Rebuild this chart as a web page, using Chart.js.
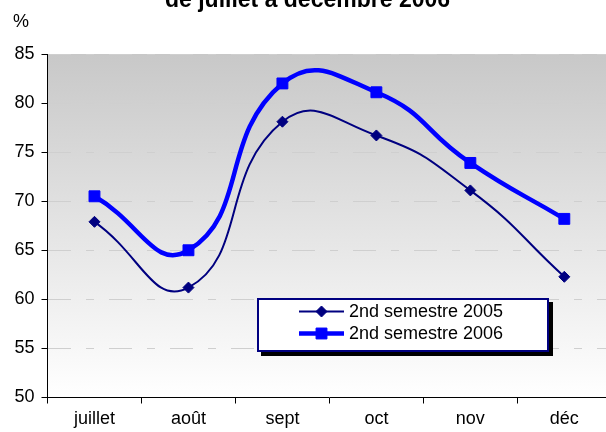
<!DOCTYPE html>
<html><head><meta charset="utf-8">
<script src="https://cdn.jsdelivr.net/npm/chart.js@4"></script>
<style>
html,body{margin:0;padding:0;overflow:hidden;background:#fff;width:606px;height:432px}
#wrap{position:relative;width:620px;height:432px}
canvas{display:block}
</style></head><body><div id="wrap"><canvas id="c" width="620" height="432" style="width:620px;height:432px"></canvas></div>
<script>
const categories = ['juillet', 'août', 'sept', 'oct', 'nov', 'déc'];
const values2005 = [67.9, 61.2, 78.1, 76.7, 71.1, 62.3];
const values2006 = [70.5, 65.0, 82.0, 81.1, 73.9, 68.2];
const seriesLabels = ['2nd semestre 2005', '2nd semestre 2006'];
const yTicks = [50, 55, 60, 65, 70, 75, 80, 85];
const titleText = 'de juillet à décembre 2006';
const unitLabel = '%';

const FONT = '"Liberation Sans", Arial, sans-serif';

const bgPlugin = {
  id: 'bg',
  beforeDraw(chart) {
    const {ctx, chartArea: a} = chart;
    const g = ctx.createLinearGradient(0, a.top, 0, a.bottom);
    g.addColorStop(0, '#c8c8c8');
    g.addColorStop(1, '#ffffff');
    ctx.save();
    ctx.fillStyle = g;
    ctx.fillRect(a.left, a.top, a.right - a.left, a.bottom - a.top);
    ctx.restore();
  }
};

function drawMarker(ctx, ds, x, y) {
  ctx.save();
  ctx.fillStyle = ds.pointBackgroundColor;
  ctx.strokeStyle = ds.pointBorderColor;
  ctx.lineWidth = ds.pointBorderWidth;
  ctx.beginPath();
  const r = ds.pointRadius;
  if (ds.pointStyle === 'rectRot') {
    ctx.moveTo(x, y - r); ctx.lineTo(x + r, y); ctx.lineTo(x, y + r); ctx.lineTo(x - r, y); ctx.closePath();
  } else {
    const s = r * Math.SQRT1_2;
    ctx.rect(x - s, y - s, 2 * s, 2 * s);
  }
  ctx.fill(); ctx.stroke();
  ctx.restore();
}

const decoPlugin = {
  id: 'deco',
  afterDraw(chart) {
    const ctx = chart.ctx;
    ctx.save();
    // title
    ctx.fillStyle = '#000';
    ctx.font = 'bold 23px ' + FONT;
    ctx.textAlign = 'center';
    ctx.textBaseline = 'alphabetic';
    ctx.fillText(titleText, 307.5, 6.5);
    // unit
    ctx.font = '18px ' + FONT;
    ctx.textAlign = 'left';
    ctx.fillText(unitLabel, 13, 27);
    // legend
    const L = {x: 257, y: 298, w: 292, h: 54};
    ctx.fillStyle = '#000';
    ctx.fillRect(L.x + 4, L.y + 4, L.w, L.h);
    ctx.fillStyle = '#fff';
    ctx.fillRect(L.x, L.y, L.w, L.h);
    ctx.strokeStyle = '#000080';
    ctx.lineWidth = 2;
    ctx.strokeRect(L.x + 1, L.y + 1, L.w - 2, L.h - 2);
    const rows = [311.5, 333.5];
    chart.data.datasets.forEach((ds, i) => {
      const y = rows[i];
      ctx.save();
      ctx.strokeStyle = ds.borderColor;
      ctx.lineWidth = ds.borderWidth;
      ctx.beginPath(); ctx.moveTo(299, y); ctx.lineTo(344, y); ctx.stroke();
      ctx.restore();
      drawMarker(ctx, ds, 321.5, y);
      ctx.fillStyle = '#000';
      ctx.font = '18px ' + FONT;
      ctx.textAlign = 'left';
      ctx.textBaseline = 'middle';
      ctx.fillText(ds.label, 349, y + 1);
    });
    ctx.restore();
  }
};

new Chart(document.getElementById('c'), {
  type: 'line',
  data: {
    labels: categories,
    datasets: [
      {
        label: seriesLabels[0], data: values2005,
        borderColor: '#000080', borderWidth: 2,
        pointStyle: 'rectRot', pointRadius: 5.5, pointBackgroundColor: '#000080',
        pointBorderColor: '#000080', pointBorderWidth: 1,
        tension: 0.5, fill: false
      },
      {
        label: seriesLabels[1], data: values2006,
        borderColor: '#0000ff', borderWidth: 4.5,
        pointStyle: 'rect', pointRadius: 7.7, pointBackgroundColor: '#0000ff',
        pointBorderColor: '#0000ff', pointBorderWidth: 1,
        tension: 0.5, fill: false
      }
    ]
  },
  options: {
    responsive: false,
    animation: false,
    events: [],
    layout: {padding: {top: 54, right: 6, bottom: 0, left: 0}},
    plugins: {legend: {display: false}, title: {display: false}, tooltip: {enabled: false}},
    scales: {
      x: {
        type: 'category', offset: true,
        grid: {offset: true, drawOnChartArea: false, tickLength: 6, color: '#000', tickColor: '#000'},
        border: {display: true, color: '#000', width: 1},
        ticks: {color: '#000', font: {family: FONT, size: 18}, padding: 5, maxRotation: 0, autoSkip: false},
        afterFit(s) { s.height = 34.5; }
      },
      y: {
        min: 50, max: 85,
        afterBuildTicks(s) { s.ticks = yTicks.map(v => ({value: v})); },
        grid: {color: '#cfcfcf', tickColor: '#000', tickLength: 6, lineWidth: 1},
        border: {display: true, color: '#000', width: 1, dash: [23, 15, 8, 15]},
        ticks: {color: '#000', font: {family: FONT, size: 18}, padding: 7},
        afterFit(s) { s.width = 47.5; }
      }
    }
  },
  plugins: [bgPlugin, decoPlugin]
});
</script></body></html>
